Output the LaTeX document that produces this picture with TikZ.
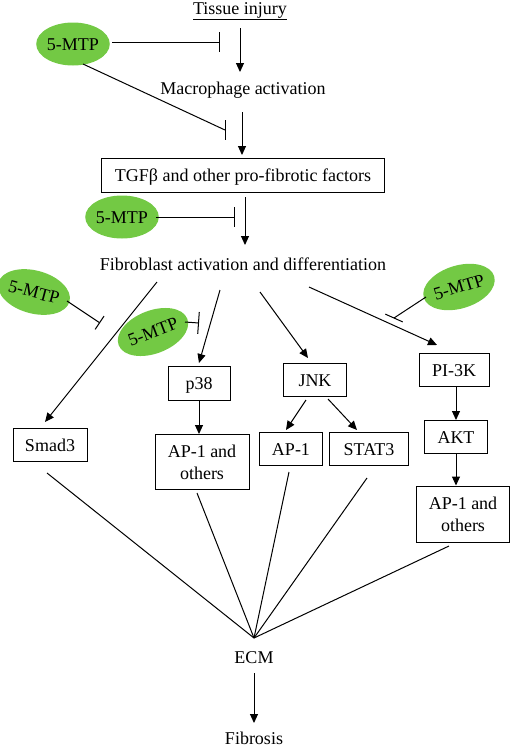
\documentclass[tikz,border=0pt]{standalone}
\usepackage{fontspec}
\setmainfont{Liberation Serif}
\usetikzlibrary{arrows.meta,shapes.geometric}
\definecolor{mtpgreen}{RGB}{115,201,68}
\begin{document}
\begin{tikzpicture}[x=1pt,y=-1pt,
  every node/.style={font=\fontsize{18}{22}\selectfont},
  box/.style={draw,line width=1pt,inner sep=0pt,text height=12pt,text depth=0pt},
  boxtwo/.style={draw,line width=1pt,inner sep=0pt,align=center},
  mtp/.style={ellipse,fill=mtpgreen,inner sep=0pt,minimum width=67pt,minimum height=43pt,text height=12pt,text depth=0pt},
  lbl/.style={anchor=base,inner sep=0pt},
  act/.style={line width=1pt,-{Triangle[length=9pt,width=8pt]}},
  inh/.style={line width=1pt,-{Bar[width=20pt,line width=1pt]}},
  plainline/.style={line width=1pt}]
\useasboundingbox (0,0) rectangle (512,748);

% text labels
\node[lbl] (tissue) at (240,14) {\underline{Tissue injury}};
\node[lbl] (macro) at (243,94.5) {Macrophage activation};
\node[lbl] (fib) at (243,270) {Fibroblast activation and differentiation};
\node[lbl] (ecm) at (254,663) {ECM};
\node[lbl] (fibrosis) at (254,744.5) {Fibrosis};

% boxes
\node[box,minimum width=283pt,minimum height=34pt] (tgf) at (243,175) {TGFβ and other pro-fibrotic factors};
\node[box,minimum width=74pt,minimum height=33pt] (smad) at (50,445) {Smad3};
\node[box,minimum width=62pt,minimum height=34pt] (p38) at (199,383) {p38};
\node[boxtwo,minimum width=94pt,minimum height=55pt] (apl) at (202,462) {AP-1 and\\others};
\node[box,minimum width=63pt,minimum height=33pt] (jnk) at (315,380) {JNK};
\node[box,minimum width=63pt,minimum height=33pt] (ap1) at (291,449) {AP-1};
\node[box,minimum width=79pt,minimum height=33pt] (stat) at (369,449) {STAT3};
\node[box,minimum width=70pt,minimum height=33pt] (pi3k) at (454,370) {PI-3K};
\node[box,minimum width=63pt,minimum height=33pt] (akt) at (456,437) {AKT};
\node[boxtwo,minimum width=93pt,minimum height=56pt] (apr) at (463,514) {AP-1 and\\others};

% 5-MTP ellipses
\node[mtp] (m1) at (73,44) {5-MTP};
\node[mtp] (m2) at (122,217) {5-MTP};
\node[mtp,rotate=-15] (m3) at (34,292) {5-MTP};
\node[mtp,rotate=21] (m4) at (153,332) {5-MTP};
\node[mtp,rotate=17] (m5) at (459,287) {5-MTP};

% coordinates
\coordinate (t1) at (240,28);
\coordinate (t2) at (240,72);
\coordinate (ma1) at (242,112);
\coordinate (ma2) at (242,155);
\coordinate (tg1) at (245,197);
\coordinate (tg2) at (245,245);
\coordinate (m1a) at (112,42);
\coordinate (m1b) at (220,42);
\coordinate (m1c) at (83,64);
\coordinate (m1d) at (225,130);
\coordinate (m1e) at (225,120);
\coordinate (m1f) at (225,140);
\coordinate (m2a) at (156,217);
\coordinate (m2b) at (235,217);
\coordinate (m3a) at (67,301);
\coordinate (m3b) at (100,323);
\coordinate (m4a) at (185,322);
\coordinate (m4b) at (199,323);
\coordinate (m5a) at (426,297);
\coordinate (m5b) at (394,318);
\coordinate (m5c) at (385.3,314.1);
\coordinate (m5d) at (402.7,321.9);
\coordinate (fs) at (157,282);
\coordinate (fp) at (220,290);
\coordinate (fj) at (260,292);
\coordinate (fk) at (309,287);
\coordinate (smadtop) at (45,422);
\coordinate (p38top) at (199,363);
\coordinate (jnktop) at (308,358);
\coordinate (pitop) at (437,345);
\coordinate (j1) at (306,400);
\coordinate (j2) at (286,430);
\coordinate (j3) at (328,399);
\coordinate (j4) at (357,430);
\coordinate (e0) at (254,638);
\coordinate (es) at (47,473);
\coordinate (el) at (197,493);
\coordinate (ea) at (289,472);
\coordinate (et) at (367,478);
\coordinate (er) at (449,546);
\coordinate (ec1) at (254,673);
\coordinate (ec2) at (254,723);

% main vertical flow
\draw[act] (t1) -- (t2);
\draw[act] (ma1) -- (ma2);
\draw[act] (tg1) -- (tg2);

% inhibitions
\draw[inh] (m1a) -- (m1b);
\draw[plainline] (m1c) -- (m1d);
\draw[plainline] (m1e) -- (m1f);
\draw[inh] (m2a) -- (m2b);
\draw[line width=1pt,-{Bar[width=16pt,line width=1pt]}] (m3a) -- (m3b);
\draw[line width=1pt,-{Bar[width=22pt,line width=1pt]}] (m4a) -- (m4b);
\draw[plainline] (m5a) -- (m5b);
\draw[plainline] (m5c) -- (m5d);

% fibroblast branches
\draw[act] (fs) -- (smadtop);
\draw[act] (fp) -- (p38top);
\draw[act] (fj) -- (jnktop);
\draw[act] (fk) -- (pitop);

% cascades
\draw[act] (p38.south) -- (p38.south |- apl.north);
\draw[act] (j1) -- (j2);
\draw[act] (j3) -- (j4);
\draw[act] (akt.north |- pi3k.south) -- (akt.north);
\draw[act] (akt.south) -- (akt.south |- apr.north);

% convergence to ECM
\draw[plainline] (es) -- (e0);
\draw[plainline] (el) -- (e0);
\draw[plainline] (ea) -- (e0);
\draw[plainline] (et) -- (e0);
\draw[plainline] (er) -- (e0);
\draw[act] (ec1) -- (ec2);
\end{tikzpicture}
\end{document}
